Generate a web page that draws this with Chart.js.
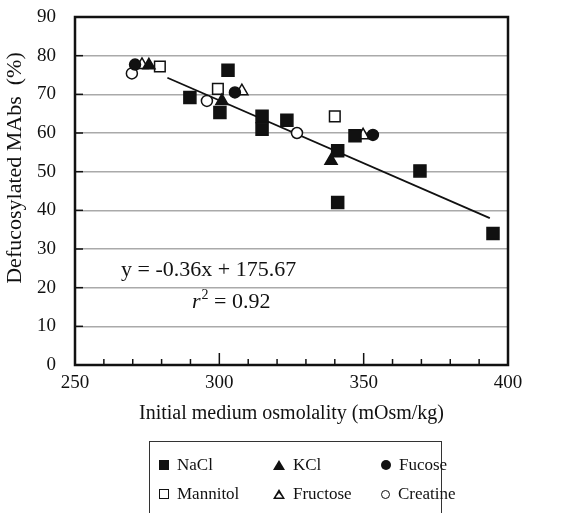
<!DOCTYPE html>
<html>
<head>
<meta charset="utf-8">
<script src="https://cdn.jsdelivr.net/npm/chart.js@4.4.1/dist/chart.umd.min.js"></script>
<style>
  body { margin: 0; background: #fff; }
  #wrap { position: relative; width: 567px; height: 513px; overflow: hidden; }
  #legend {
    position: absolute; left: 149px; top: 441px; width: 293px; height: 90px;
    border: 1.5px solid #333; box-sizing: border-box;
    font-family: "Liberation Serif", serif; font-size: 17px; color: #111;
  }
  .item { position: absolute; height: 20px; line-height: 20px; white-space: nowrap; }
  .sym { display: inline-block; vertical-align: middle; margin-right: 8px; box-sizing: border-box; position: relative; top: -1px; }
  .sq { width: 10px; height: 10px; background: #111; }
  .osq { width: 10px; height: 10px; border: 1.5px solid #111; background: #fff; }
  .ci { width: 10px; height: 10px; border-radius: 50%; background: #111; }
  .oci { width: 9px; height: 9px; border-radius: 50%; border: 1.5px solid #111; }
  .tri { width: 0; height: 0; border-left: 6px solid transparent; border-right: 6px solid transparent; border-bottom: 10px solid #111; }
  .otri { width: 12px; height: 10px; background: #111; clip-path: polygon(50% 0, 100% 100%, 0 100%); }
  .otri::after { content: ""; position: absolute; left: 2.5px; top: 4px; width: 7px; height: 4.5px; background: #fff; clip-path: polygon(50% 0, 100% 100%, 0 100%); }
</style>
</head>
<body>
<div id="wrap">
  <canvas id="myChart" width="567" height="513"></canvas>
  <div id="legend">
    <div class="item" style="left:9px;top:13px"><span class="sym sq"></span>NaCl</div>
    <div class="item" style="left:123px;top:13px"><span class="sym tri"></span>KCl</div>
    <div class="item" style="left:231px;top:13px"><span class="sym ci"></span>Fucose</div>
    <div class="item" style="left:9px;top:42px"><span class="sym osq"></span>Mannitol</div>
    <div class="item" style="left:123px;top:42px"><span class="sym otri"></span>Fructose</div>
    <div class="item" style="left:231px;top:42px"><span class="sym oci"></span>Creatine</div>
  </div>
</div>
<script>
const nacl = [[289.8, 69.2], [300.2, 65.3], [303, 76.2], [314.8, 64.3], [314.8, 61], [323.4, 63.3], [341, 55.4], [341, 42], [347, 59.3], [369.5, 50.2], [394.8, 34]];
const kcl = [[275.6, 77.5], [300.9, 68.3], [338.7, 52.8]];
const fucose = [[270.8, 77.7], [305.4, 70.5], [353.2, 59.5]];
const mannitol = [[279.4, 77.2], [299.5, 71.4], [340, 64.3]];
const fructose = [[273.2, 77.6], [307.8, 70.8], [349.8, 59.4]];
const creatine = [[269.7, 75.4], [295.7, 68.3], [326.9, 60]];
const fitLine = [[282, 74.3], [393.7, 38]];
const xTicks = [250, 300, 350, 400];
const yTicks = [0, 10, 20, 30, 40, 50, 60, 70, 80, 90];

const serif = '"Liberation Serif", "Times New Roman", serif';
const toPts = arr => arr.map(p => ({x: p[0], y: p[1]}));

function series(label, arr, style, filled, radius) {
  return {
    label: label,
    data: toPts(arr),
    pointStyle: style,
    pointRadius: radius,
    pointHoverRadius: radius,
    backgroundColor: filled ? '#111' : '#fff',
    borderColor: '#111',
    borderWidth: 1.5,
    showLine: false
  };
}

// frame, inside tick marks, y title and the equation text
const extras = {
  id: 'extras',
  afterDatasetsDraw(chart) {
    const {ctx, chartArea: a, scales: {x, y}} = chart;
    ctx.save();
    ctx.strokeStyle = '#111';
    ctx.lineWidth = 1.5;
    for (let v = 260; v < 400; v += 10) {
      const px = x.getPixelForValue(v);
      const len = v % 50 === 0 ? 12 : 6;
      ctx.beginPath();
      ctx.moveTo(px, a.bottom);
      ctx.lineTo(px, a.bottom - len);
      ctx.stroke();
    }
    for (let v = 10; v < 90; v += 10) {
      const py = y.getPixelForValue(v);
      ctx.beginPath();
      ctx.moveTo(a.left, py);
      ctx.lineTo(a.left + 8, py);
      ctx.stroke();
    }
    ctx.lineWidth = 2.5;
    ctx.strokeRect(a.left, a.top, a.right - a.left, a.bottom - a.top);

    ctx.fillStyle = '#111';
    ctx.textBaseline = 'middle';

    ctx.save();
    ctx.translate(15, 168);
    ctx.rotate(-Math.PI / 2);
    ctx.textAlign = 'center';
    ctx.font = '22px ' + serif;
    ctx.fillText('Defucosylated MAbs  (%)', 0, 0);
    ctx.restore();

    ctx.textAlign = 'left';
    ctx.font = '22px ' + serif;
    ctx.fillText('y = -0.36x + 175.67', 121, 270);
    const rx = 192;
    ctx.font = 'italic 22px ' + serif;
    ctx.fillText('r', rx, 302);
    const rw = ctx.measureText('r').width;
    ctx.font = '14px ' + serif;
    ctx.fillText('2', rx + rw + 1, 295);
    ctx.font = '22px ' + serif;
    ctx.fillText(' = 0.92', rx + rw + 8, 302);
    ctx.restore();
  }
};

const ctx = document.getElementById('myChart');

new Chart(ctx, {
  type: 'scatter',
  data: {
    datasets: [
      {
        label: 'fit',
        data: toPts(fitLine),
        showLine: true,
        borderColor: '#111',
        borderWidth: 1.8,
        pointRadius: 0,
        order: 10
      },
      series('NaCl', nacl, 'rect', true, 8.5),
      series('KCl', kcl, 'triangle', true, 7),
      series('Fucose', fucose, 'circle', true, 5.5),
      series('Mannitol', mannitol, 'rect', false, 7.5),
      series('Fructose', fructose, 'triangle', false, 7),
      series('Creatine', creatine, 'circle', false, 5.5)
    ]
  },
  options: {
    responsive: false,
    animation: false,
    layout: { padding: { left: 0, right: 59, top: 17, bottom: 83 } },
    plugins: { legend: { display: false }, tooltip: { enabled: false } },
    scales: {
      x: {
        type: 'linear',
        min: 250,
        max: 400,
        afterBuildTicks: s => { s.ticks = xTicks.map(v => ({value: v})); },
        afterFit: s => { s.height = 65; s.paddingLeft = 0; s.paddingRight = 0; },
        grid: { display: false, drawTicks: false },
        border: { display: false },
        ticks: { color: '#111', font: { family: serif, size: 19 }, padding: 7, maxRotation: 0 },
        title: {
          display: true,
          text: 'Initial medium osmolality (mOsm/kg)',
          color: '#111',
          font: { family: serif, size: 20 },
          padding: { top: 10 }
        }
      },
      y: {
        min: 0,
        max: 90,
        afterBuildTicks: s => { s.ticks = yTicks.map(v => ({value: v})); },
        afterFit: s => { s.width = 75; s.paddingTop = 0; s.paddingBottom = 0; },
        grid: {
          drawTicks: false,
          color: c => (c.tick.value === 0 || c.tick.value === 90) ? 'rgba(0,0,0,0)' : '#aaa',
          lineWidth: 1.5
        },
        border: { display: false },
        ticks: { color: '#111', font: { family: serif, size: 19 }, padding: 19 },
        title: { display: false }
      }
    }
  },
  plugins: [extras]
});
</script>
</body>
</html>
